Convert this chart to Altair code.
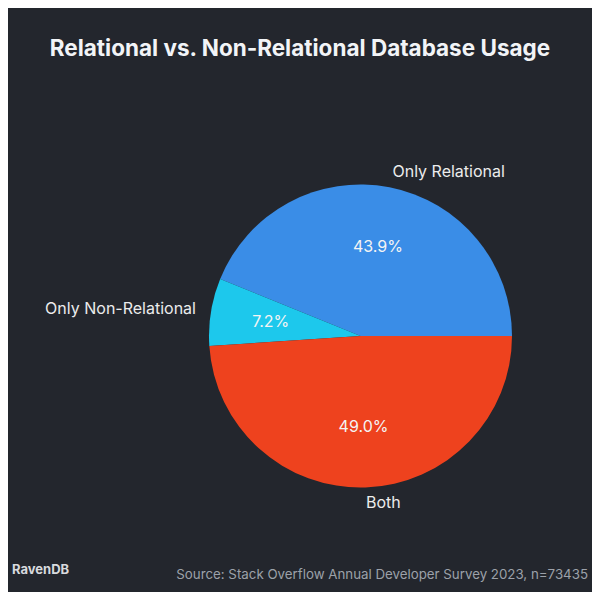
import math
import altair as alt
import pandas as pd

categories = ["Only Relational", "Only Non-Relational", "Both"]
percentages = [43.9, 7.2, 49.0]
order_idx = [0, 1, 2]
colors = ["#3A8DE7", "#1DC8EC", "#EE421E"]
left_aligned = ["Only Relational", "Both"]

title_text = "Relational vs. Non-Relational Database Usage"
source_text = "Source: Stack Overflow Annual Developer Survey 2023, n=73435"
logo_text = "RavenDB"

df = pd.DataFrame({"cat": categories, "pct": percentages, "idx": order_idx})

FONT = "Inter"
BG = "#23262D"
cx, cy, R = 352.5, 328, 151.5

theta = alt.Theta("pct:Q", stack=True,
                  scale=alt.Scale(range=[math.pi / 2, math.pi / 2 - 2 * math.pi]))
order = alt.Order("idx:Q")

base = alt.Chart(df).encode(theta=theta, order=order)

arcs = base.mark_arc(outerRadius=R).encode(
    x=alt.value(cx), y=alt.value(cy),
    color=alt.Color("cat:N", scale=alt.Scale(domain=categories, range=colors), legend=None),
)

pct_labels = base.transform_calculate(
    txt="format(datum.pct, '.1f') + '%'"
).mark_text(font=FONT, fontSize=16, color="#F4F4F4", align="center", baseline="middle").encode(
    x=alt.value(cx), y=alt.value(cy), radius=alt.value(R * 0.6), text="txt:N"
)

left_list = "[" + ",".join('"' + c + '"' for c in left_aligned) + "]"

left_lab = base.transform_calculate(
    txt="indexof(" + left_list + ", datum.cat) >= 0 ? datum.cat : ''"
).mark_text(font=FONT, fontSize=16, color="#ECECEC", align="left", baseline="middle").encode(
    x=alt.value(cx), y=alt.value(cy), radius=alt.value(R * 1.1), text="txt:N"
)

right_lab = base.transform_calculate(
    txt="indexof(" + left_list + ", datum.cat) < 0 ? datum.cat : ''"
).mark_text(font=FONT, fontSize=16, color="#ECECEC", align="right", baseline="middle").encode(
    x=alt.value(cx), y=alt.value(cy), radius=alt.value(R * 1.1), text="txt:N"
)

title = alt.Chart(pd.DataFrame({"t": [title_text]})).mark_text(
    font=FONT, fontSize=22.5, fontWeight="bold", color="#F2F4F7", align="center", baseline="middle"
).encode(x=alt.value(292), y=alt.value(41), text="t:N")

source = alt.Chart(pd.DataFrame({"t": [source_text]})).mark_text(
    font=FONT, fontSize=13.3, color="#9CA1A9", align="right", baseline="middle"
).encode(x=alt.value(580), y=alt.value(567), text="t:N")

logo = alt.Chart(pd.DataFrame({"t": [logo_text]})).mark_text(
    font=FONT, fontSize=13, fontWeight="bold", color="#D8DADE", align="left", baseline="middle"
).encode(x=alt.value(4), y=alt.value(562), text="t:N")

chart = alt.layer(arcs, pct_labels, left_lab, right_lab, title, source, logo).properties(
    width=584, height=584, padding=0, background=BG
).configure_view(stroke=None)

chart.save("out.html", embed_options={"renderer": "svg", "actions": False})
